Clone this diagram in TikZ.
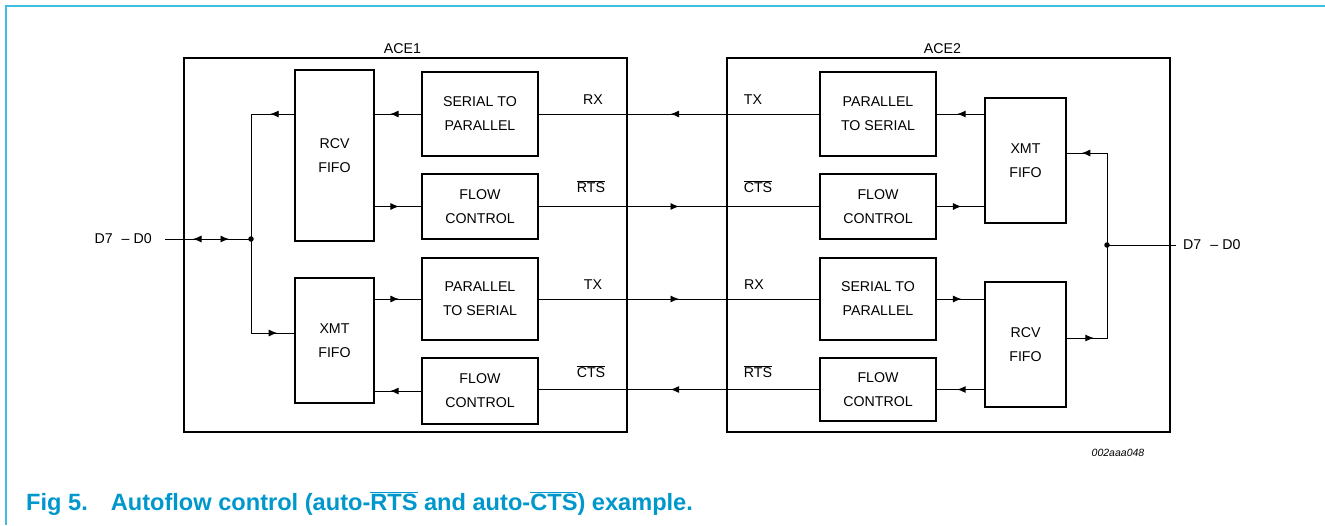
\documentclass[tikz,border=0pt]{standalone}
\usepackage{fontspec}
\setmainfont{Liberation Sans}
\usetikzlibrary{calc,arrows.meta,decorations.markings}
\definecolor{nxpframe}{RGB}{64,190,222}
\definecolor{nxpblue}{RGB}{0,152,204}

\begin{document}
\begin{tikzpicture}[x=1pt,y=-1pt,
  txt/.style={font=\fontsize{14.2}{24}\selectfont, align=center},
  blk/.style={draw, line width=1.6pt, txt, inner sep=0pt},
  ace/.style={draw, line width=1.6pt, inner sep=0pt},
  wire/.style={line width=0.9pt},
  flowtip/.style={postaction={decorate}, decoration={markings,
    mark=at position #1 with {\arrow{Latex[length=8.5pt,width=7pt]}}}},
  dbltip/.style={postaction={decorate}, decoration={markings,
    mark=at position 28pt with {\arrowreversed{Latex[length=8.5pt,width=7pt]}},
    mark=at position 64pt with {\arrow{Latex[length=8.5pt,width=7pt]}}}},
  bus/.style={circle, fill, inner sep=0pt, minimum size=5.5pt}]
  \useasboundingbox (0,0) rectangle (1325,525);
  \draw[nxpframe, line width=2pt] (1325,6) -- (6,6) -- (6,525);

  % the two ACEs
  \node[ace, minimum width=443pt, minimum height=374pt, label={[txt, xshift=-3pt]above:ACE1}] (ace1) at (405.5,245) {};
  \node[ace, minimum width=443pt, minimum height=374pt, label={[txt, xshift=-6pt]above:ACE2}] (ace2) at (948.5,245) {};

  % ACE1 blocks
  \node[blk, minimum width=79pt, minimum height=171pt] (rcv1) at (334.5,155.5) {RCV\\FIFO};
  \node[blk, minimum width=116pt, minimum height=84pt] (s2p1) at (480,114) {SERIAL TO\\PARALLEL};
  \node[blk, minimum width=116pt, minimum height=65pt] (fc1a) at (480,206.5) {FLOW\\CONTROL};
  \node[blk, minimum width=116pt, minimum height=82pt] (p2s1) at (480,299) {PARALLEL\\TO SERIAL};
  \node[blk, minimum width=79pt, minimum height=125pt] (xmt1) at (334.5,340.5) {XMT\\FIFO};
  \node[blk, minimum width=116pt, minimum height=66pt] (fc1b) at (480,391) {FLOW\\CONTROL};

  % ACE2 blocks
  \node[blk, minimum width=116pt, minimum height=84pt] (p2s2) at (878,114) {PARALLEL\\TO SERIAL};
  \node[blk, minimum width=116pt, minimum height=65pt] (fc2a) at (878,206.5) {FLOW\\CONTROL};
  \node[blk, minimum width=81pt, minimum height=125pt] (xmt2) at (1025.5,160.5) {XMT\\FIFO};
  \node[blk, minimum width=116pt, minimum height=82pt] (s2p2) at (878,299) {SERIAL TO\\PARALLEL};
  \node[blk, minimum width=81pt, minimum height=125pt] (rcv2) at (1025.5,344.5) {RCV\\FIFO};
  \node[blk, minimum width=116pt, minimum height=63pt] (fc2b) at (878,389.5) {FLOW\\CONTROL};

  % inside ACE1
  \draw[wire, flowtip=.67] (s2p1.west) -- (s2p1.west -| rcv1.east);
  \draw[wire, flowtip=.52] (rcv1.east |- fc1a.west) -- (fc1a.west);
  \draw[wire, flowtip=.52] (xmt1.east |- p2s1.west) -- (p2s1.west);
  \draw[wire, flowtip=.67] (fc1b.west) -- (fc1b.west -| xmt1.east);

  % inside ACE2
  \draw[wire, flowtip=.57] (xmt2.west |- p2s2.east) -- (p2s2.east);
  \draw[wire, flowtip=.52] (fc2a.east) -- (fc2a.east -| xmt2.west);
  \draw[wire, flowtip=.52] (s2p2.east) -- (s2p2.east -| rcv2.west);
  \draw[wire, flowtip=.57] (rcv2.west |- fc2b.east) -- (fc2b.east);

  % serial links
  \draw[wire, flowtip=.53] (p2s2.west) -- (p2s2.west -| s2p1.east);
  \draw[wire, flowtip=.5] (fc1a.east) -- (fc1a.east -| fc2a.west);
  \draw[wire, flowtip=.5] (p2s1.east) -- (p2s1.east -| s2p2.west);
  \draw[wire, flowtip=.53] (fc2b.west) -- (fc2b.west -| fc1b.east);
  \node[txt] (rx1) at (593,100) {RX};
  \node[txt] (tx2) at (753,100) {TX};
  \node[txt] (rts1) at (591,187) {$\overline{\mbox{RTS}}$};
  \node[txt] (cts2) at (758,187) {$\overline{\mbox{CTS}}$};
  \node[txt] (tx1) at (593,285) {TX};
  \node[txt] (rx2) at (754,285) {RX};
  \node[txt] (cts1) at (591,372) {$\overline{\mbox{CTS}}$};
  \node[txt] (rts2) at (758,372) {$\overline{\mbox{RTS}}$};

  % data buses
  \coordinate (d1) at (165,239);
  \node[bus] (j1) at (251,239) {};
  \node[txt, anchor=east, inner sep=0pt] (data1) at (152,239) {D7\hspace{9pt}--\hspace{4pt}D0};
  \draw[wire, dbltip] (d1) -- (j1.center);
  \draw[wire, flowtip=24pt] (rcv1.west |- s2p1.west) -| (j1.center);
  \draw[wire, flowtip=-17pt] (j1.center) |- ([yshift=7.5pt]xmt1.west);

  \coordinate (d2) at (1176,245);
  \node[bus] (j2) at (1107,245) {};
  \node[txt, anchor=west, inner sep=0pt] (data2) at (1183,245) {D7\hspace{9pt}--\hspace{4pt}D0};
  \draw[wire] (j2.center) -- (d2);
  \draw[wire, flowtip=-15pt] (j2.center) |- ([yshift=7.5pt]xmt2.east);
  \draw[wire, flowtip=27pt] ([yshift=6.5pt]rcv2.east) -| (j2.center);

  \node[font=\itshape\fontsize{10.5}{12}\selectfont] (code) at (1118,453) {002aaa048};
  \node[anchor=base west, inner sep=0pt, text=nxpblue, font=\bfseries\fontsize{23.6}{24}\selectfont] (cap) at (26,510)
    {Fig 5.\hspace{23pt}Autoflow control (auto-$\overline{\mbox{RTS}}$ and auto-$\overline{\mbox{CTS}}$) example.};
\end{tikzpicture}
\end{document}
